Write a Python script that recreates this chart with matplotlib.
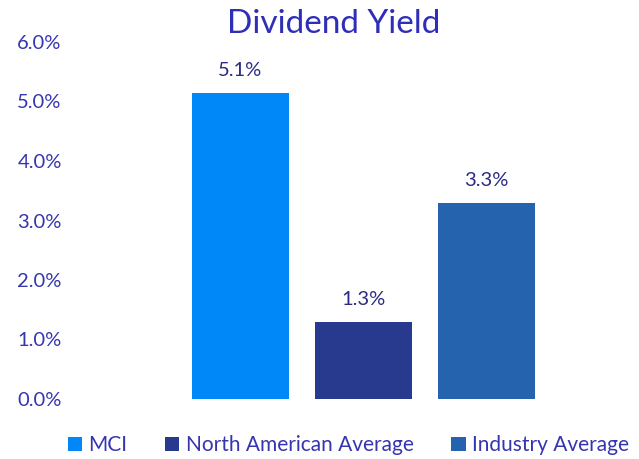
import matplotlib.pyplot as plt
from matplotlib.ticker import FuncFormatter

plt.rcParams['font.family'] = ['Lato', 'DejaVu Sans']

categories = ['MCI', 'North American Average', 'Industry Average']
values = [5.15, 1.3, 3.3]
value_labels = ['5.1%', '1.3%', '3.3%']
colors = ['#0088F8', '#283A8E', '#2563AE']
yticks = [0, 1, 2, 3, 4, 5, 6]

fig = plt.figure(figsize=(6.39, 4.59), dpi=100)
ax = fig.add_axes([70 / 639, 1 - 399 / 459, 555 / 639, 357 / 459])

x = list(range(len(categories)))
bars = ax.bar(x, values, width=0.79, color=colors, label=categories)

for xi, v, lab in zip(x, values, value_labels):
    ax.annotate(lab, (xi, v), xytext=(0, 10), textcoords='offset points',
                ha='center', va='bottom', fontsize=14.5, color='#2B2B85')

ax.set_xlim(-1.386, 3.126)
ax.set_ylim(0, 6)
ax.set_yticks(yticks)
ax.yaxis.set_major_formatter(FuncFormatter(lambda v, p: f'{v:.1f}%'))
ax.tick_params(axis='y', length=0, labelsize=14.5, labelcolor='#3535B0', pad=6)
ax.set_xticks([])
for s in ax.spines.values():
    s.set_visible(False)

fig.text(0.522, 0.947, 'Dividend Yield', ha='center', va='center',
         fontsize=24, color='#2E2EB8')

fig.legend(handles=bars, labels=categories, loc='center', bbox_to_anchor=(0.545, 0.03),
           ncol=3, frameon=False, fontsize=15, labelcolor='#3535B0',
           handlelength=0.7, handleheight=0.7, handletextpad=0.3, columnspacing=1.8)

fig.savefig('out.png', dpi=100)
